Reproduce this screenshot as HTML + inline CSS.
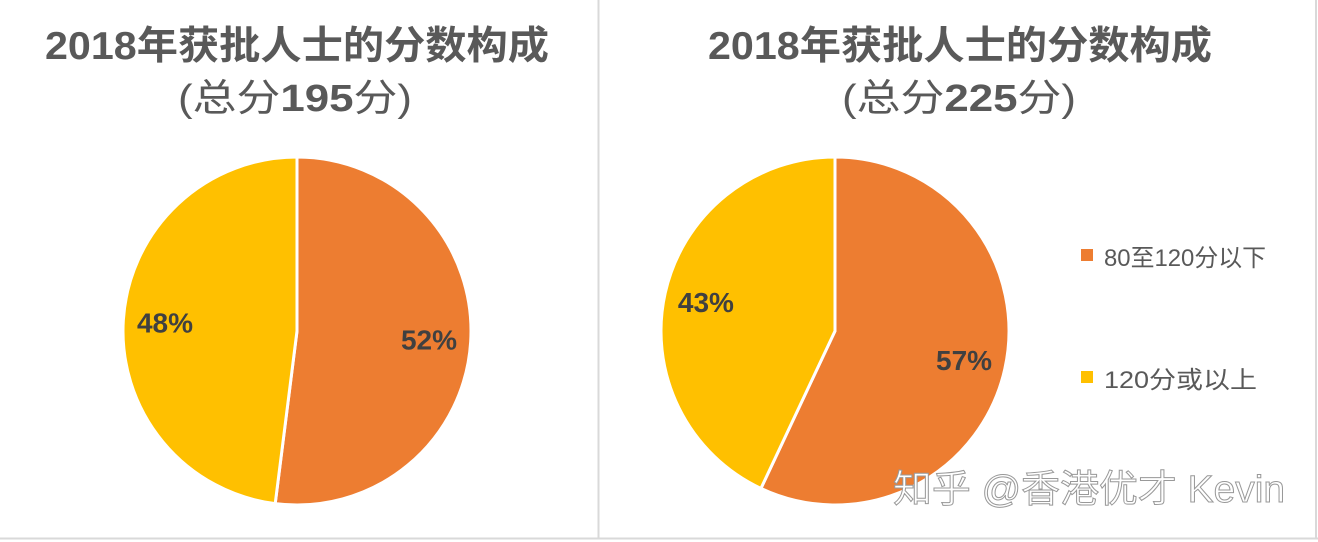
<!DOCTYPE html>
<html><head><meta charset="utf-8">
<style>
body{margin:0;background:#fff;}
svg{display:block;font-family:"Liberation Sans","Noto Sans CJK SC",sans-serif;}
</style></head><body>
<svg id="c" width="1318" height="542" viewBox="0 0 1318 542">
<line x1="598.5" y1="0" x2="598.5" y2="538" stroke="#d9d9d9" stroke-width="2"/>
<line x1="1316" y1="0" x2="1316" y2="538" stroke="#d9d9d9" stroke-width="2"/>
<line x1="0" y1="538.5" x2="1318" y2="538.5" stroke="#d9d9d9" stroke-width="2"/>
<text x="45" y="59" textLength="504" lengthAdjust="spacingAndGlyphs" font-size="39" font-weight="bold" fill="#595959">2018年获批人士的分数构成</text>
<text x="178" y="111" textLength="234" lengthAdjust="spacingAndGlyphs" font-size="38" fill="#595959">(总分<tspan font-weight="bold">195</tspan>分)</text>
<text x="708" y="59" textLength="504" lengthAdjust="spacingAndGlyphs" font-size="39" font-weight="bold" fill="#595959">2018年获批人士的分数构成</text>
<text x="842" y="111" textLength="234" lengthAdjust="spacingAndGlyphs" font-size="38" fill="#595959">(总分<tspan font-weight="bold">225</tspan>分)</text>
<g id="pies"></g>
<rect x="1081" y="249" width="12" height="12" fill="#ed7d31"/>
<text x="1104" y="266" textLength="162" lengthAdjust="spacingAndGlyphs" font-size="24" fill="#595959">80至120分以下</text>
<rect x="1081" y="371" width="12" height="12" fill="#ffc000"/>
<text x="1104" y="388" textLength="153" lengthAdjust="spacingAndGlyphs" font-size="24" fill="#595959">120分或以上</text>
<text x="893" y="502" textLength="392" lengthAdjust="spacingAndGlyphs" font-size="38" fill="#fff" stroke="#999" stroke-width="1">知乎 @香港优才 Kevin</text>
</svg>
<script>
const categories=["80至120分以下","120分或以上"];
const leftValues=[52,48];
const rightValues=[57,43];
const colors=["#ed7d31","#ffc000"];
const NS="http://www.w3.org/2000/svg";
const g=document.getElementById("pies");
function drawPie(cx,cy,r,vals,prefix){
  const tot=vals.reduce((a,b)=>a+b,0);
  let a0=0;
  vals.forEach((v,i)=>{
    const a1=a0+v/tot*2*Math.PI;
    const x0=cx+r*Math.sin(a0),y0=cy-r*Math.cos(a0);
    const x1=cx+r*Math.sin(a1),y1=cy-r*Math.cos(a1);
    const p=document.createElementNS(NS,"path");
    p.setAttribute("d",`M${cx},${cy}L${x0},${y0}A${r},${r} 0 ${a1-a0>Math.PI?1:0} 1 ${x1},${y1}Z`);
    p.setAttribute("fill",colors[i]);
    p.setAttribute("stroke","#fff");
    p.setAttribute("stroke-width","3");
    
    
    g.appendChild(p);
    const am=(a0+a1)/2, lr=r*0.76;
    const t=document.createElementNS(NS,"text");
    t.setAttribute("x",cx+lr*Math.sin(am));
    t.setAttribute("y",cy-lr*Math.cos(am)+10);
    t.setAttribute("text-anchor","middle");
    t.setAttribute("font-size","28");
    t.setAttribute("font-weight","bold");
    t.setAttribute("fill","#404040");
    t.textContent=Math.round(v/tot*100)+"%";
    
    
    g.appendChild(t);
    a0=a1;
  });
}
drawPie(297,331,174,leftValues,"left-pie");
drawPie(835,331,174,rightValues,"right-pie");
</script>
</body></html>
